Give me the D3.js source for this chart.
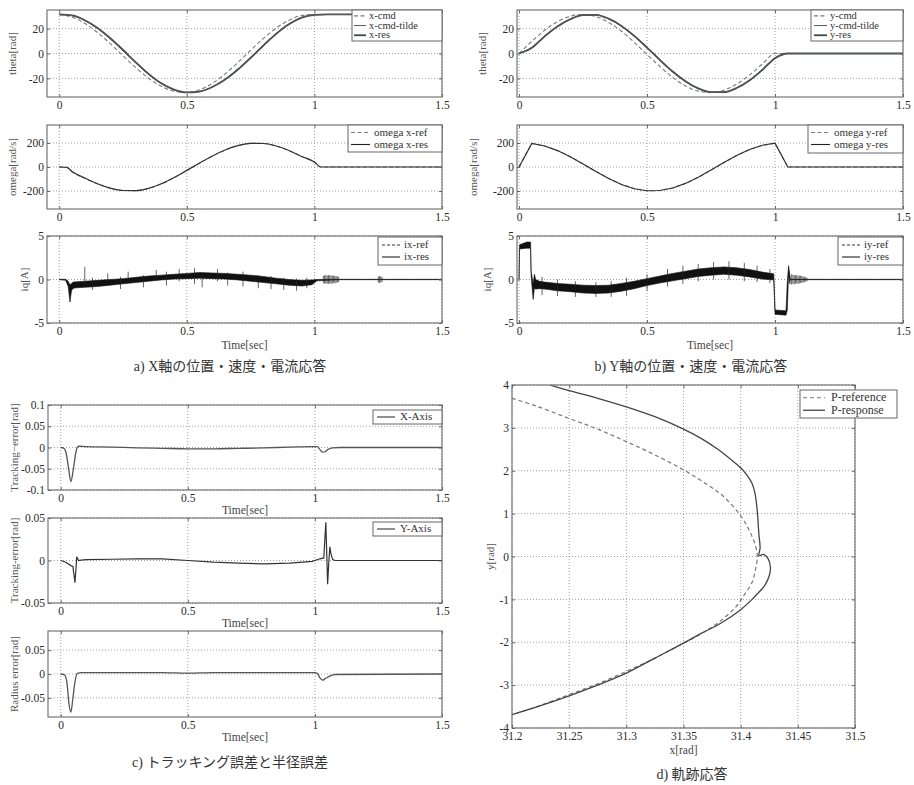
<!DOCTYPE html>
<html>
<head>
<meta charset="utf-8">
<script src="https://cdn.jsdelivr.net/npm/d3@7"></script>
<style>
body { margin: 0; background: #fff; }
svg { display: block; }
text { font-family: "Liberation Serif", "Times New Roman", serif; }
.grid { stroke: #8a8a8a; stroke-width: 0.8; stroke-dasharray: 1,2; }
.axis line { stroke: #666; }
.cap { font-family: "Liberation Serif", "Noto Sans CJK JP", serif; font-size: 14px; fill: #333; }
</style>
</head>
<body>
<svg id="fig" width="914" height="785"></svg>
<script>
// ---- ticks
var tTicks = [0, 0.5, 1, 1.5];
var thetaTicks = [-20, 0, 20];
var omegaTicks = [-200, 0, 200];
var iqTicks = [-5, 0, 5];
var errXTicks = [-0.1, -0.05, 0, 0.05, 0.1];
var errYTicks = [-0.05, 0, 0.05];
var radTicks = [-0.05, 0, 0.05];
var pxTicks = [31.2, 31.25, 31.3, 31.35, 31.4, 31.45, 31.5];
var pyTicks = [-4, -3, -2, -1, 0, 1, 2, 3, 4];

// ---- a) / b) position (theta)
var tTheta = [0, .05, .1, .15, .2, .25, .3, .35, .4, .45, .5, .55, .6, .65, .7, .75, .8, .85, .9, .95, 1.0, 1.05, 1.5];
var xCmd      = [31.3, 29.3, 24.3, 16.9, 7.9, -1.9, -11.4, -19.9, -26.4, -30.4, -31.4, -29.2, -24.0, -16.4, -7.2, 2.6, 12.1, 20.4, 26.8, 30.6, 31.4, 31.4, 31.4];
var xCmdTilde = [31.4, 30.5, 26.5, 20.2, 11.8, 2.3, -7.6, -16.9, -24.3, -29.2, -31.3, -30.5, -26.8, -20.7, -12.5, -3.0, 6.9, 16.2, 23.8, 29.0, 31.1, 31.4, 31.4];
var xRes      = [31.4, 30.6, 26.8, 20.6, 12.3, 2.8, -7.1, -16.4, -24.0, -29.0, -31.3, -30.6, -27.0, -21.0, -12.9, -3.5, 6.4, 15.8, 23.5, 28.8, 31.0, 31.4, 31.4];
var yCmd      = [0, 9.8, 18.7, 25.6, 30.0, 31.4, 29.7, 25.0, 17.9, 9.0, -0.8, -10.4, -19.2, -26.0, -30.3, -31.4, -29.5, -24.6, -17.4, -8.5, 0, 0, 0];
var yCmdTilde = [0, 5.0, 14.2, 22.0, 27.8, 31.0, 31.0, 27.8, 21.9, 13.8, 4.3, -5.6, -14.9, -22.6, -28.3, -31.2, -31.0, -27.6, -21.4, -12.9, -3.4, 0, 0];
var yRes      = [0, 4.6, 13.8, 21.7, 27.6, 30.9, 31.1, 28.0, 22.2, 14.2, 4.8, -5.1, -14.5, -22.3, -28.1, -31.1, -31.1, -27.8, -21.7, -13.3, -3.8, 0, 0];

// ---- a) / b) velocity (omega)
var tOmegaX = [0, .03, .05, .1, .15, .2, .25, .3, .35, .4, .45, .5, .55, .6, .65, .7, .75, .8, .85, .9, .95, 1.0, 1.025, 1.5];
var omegaXRef = [0, -4, -40, -94, -141, -177, -196, -197, -178, -141, -89, -29, 32, 91, 141, 178, 197, 196, 175, 137, 88, 40, 0, 0];
var omegaXRes = [0, -3, -38, -92, -140, -176, -196, -197, -178, -140, -88, -28, 33, 92, 142, 178, 197, 196, 175, 137, 88, 42, 0, 0];
var tOmegaY = [0, .05, .1, .15, .2, .25, .3, .35, .4, .45, .5, .55, .6, .65, .7, .75, .8, .85, .9, .95, 1.0, 1.05, 1.5];
var omegaYRef = [0, 197, 176, 138, 86, 26, -36, -95, -145, -180, -198, -196, -176, -138, -86, -26, 36, 95, 145, 180, 198, 0, 0];
var omegaYRes = [0, 196, 175, 137, 85, 25, -37, -96, -146, -181, -198, -196, -175, -137, -85, -25, 37, 96, 146, 181, 198, 0, 0];

// ---- a) / b) current: noisy band read as lower / upper edge, plus the taller spikes
var ixT  = [0, 0.025, 0.035, 0.042, 0.048, 0.055, 0.07, 0.1, 0.15, 0.2, 0.25, 0.3, 0.35, 0.4, 0.45, 0.5, 0.55, 0.6, 0.65, 0.7, 0.75, 0.8, 0.85, 0.9, 0.95, 0.99, 1.01, 1.1, 1.5];
var ixHi = [0.02, 0.02, -0.2, -0.6, -0.45, -0.3, -0.25, -0.2, -0.1, 0.0, 0.1, 0.25, 0.4, 0.5, 0.6, 0.7, 0.8, 0.75, 0.7, 0.6, 0.5, 0.35, 0.15, 0.0, -0.1, -0.05, 0.0, 0.02, 0.02];
var ixLo = [-0.02, -0.1, -0.8, -2.6, -1.3, -1.0, -0.95, -0.9, -0.8, -0.65, -0.5, -0.35, -0.2, -0.05, 0.05, 0.1, 0.15, 0.1, 0.05, -0.05, -0.2, -0.35, -0.5, -0.65, -0.75, -0.6, -0.15, -0.02, -0.02];
var ixSpikes = [[0.1, -0.6, 1.45], [0.13, -1.2, 0.2], [0.19, -0.3, 0.7], [0.24, -1.1, 0.3], [0.27, -0.2, 0.9], [0.33, -0.9, 0.5], [0.38, 0.0, 1.1], [0.42, -0.7, 0.9], [0.47, -0.2, 1.2], [0.53, -0.5, 1.3], [0.56, -0.9, 0.6], [0.62, -0.2, 1.2], [0.66, -0.7, 0.8], [0.72, -0.8, 0.9], [0.78, -1.0, 0.5], [0.83, -1.1, 0.4], [0.88, -1.2, 0.2], [0.93, -1.3, 0.1], [0.97, -1.0, 0.2],
    [1.035, -0.4, 0.4], [1.04, -0.5, 0.5], [1.045, -0.45, 0.5], [1.05, -0.5, 0.45], [1.055, -0.5, 0.5], [1.06, -0.45, 0.5], [1.065, -0.5, 0.45], [1.07, -0.45, 0.45], [1.075, -0.4, 0.45], [1.08, -0.45, 0.4], [1.085, -0.4, 0.4], [1.09, -0.35, 0.35], [1.095, -0.3, 0.3],
    [1.25, -0.35, 0.35], [1.255, -0.4, 0.4], [1.26, -0.35, 0.35], [1.265, -0.3, 0.3]];

var iyT  = [0, 0.002, 0.03, 0.045, 0.047, 0.055, 0.06, 0.065, 0.08, 0.1, 0.15, 0.2, 0.25, 0.3, 0.35, 0.4, 0.45, 0.5, 0.55, 0.6, 0.65, 0.7, 0.75, 0.8, 0.85, 0.9, 0.95, 0.995, 1.0, 1.043, 1.048, 1.053, 1.058, 1.06, 1.5];
var iyHi = [0, 4.0, 4.3, 4.3, 1.0, -0.5, 0.6, 0.0, -0.2, -0.3, -0.45, -0.55, -0.65, -0.7, -0.65, -0.45, -0.2, 0.1, 0.4, 0.7, 0.95, 1.2, 1.35, 1.45, 1.35, 1.15, 0.85, 0.65, -3.5, -3.6, -0.3, 1.6, 0.5, 0.02, 0.02];
var iyLo = [0, 3.5, 3.6, 3.6, 0.5, -2.3, -1.0, -1.1, -1.05, -1.1, -1.3, -1.4, -1.55, -1.6, -1.55, -1.35, -1.05, -0.7, -0.4, -0.15, 0.1, 0.35, 0.5, 0.6, 0.5, 0.3, 0.05, -0.05, -4.0, -4.1, -3.5, 0.6, -0.5, -0.02, -0.02];
var iySpikes = [[0.09, -1.8, 0.3], [0.15, -1.9, 0.0], [0.22, -2.0, -0.2], [0.3, -2.0, -0.3], [0.36, -2.0, -0.2], [0.42, -1.9, 0.2], [0.5, -1.3, 0.6], [0.58, -0.8, 1.2], [0.64, -0.5, 1.6], [0.7, -0.2, 1.8], [0.76, 0.0, 2.0], [0.82, 0.0, 2.1], [0.88, -0.2, 1.9], [0.93, -0.3, 1.6], [0.98, -0.4, 1.2],
    [1.065, -0.6, 0.6], [1.07, -0.5, 0.55], [1.075, -0.55, 0.5], [1.08, -0.5, 0.5], [1.085, -0.45, 0.5], [1.09, -0.5, 0.45], [1.095, -0.45, 0.45], [1.1, -0.4, 0.45], [1.105, -0.4, 0.4], [1.11, -0.35, 0.35], [1.115, -0.3, 0.3], [1.12, -0.25, 0.25], [1.125, -0.2, 0.2]];

// ---- c) tracking / radius error
var tErrX = [0, 0.01, 0.02, 0.03, 0.04, 0.05, 0.06, 0.07, 0.1, 0.2, 0.3, 0.4, 0.5, 0.6, 0.7, 0.8, 0.9, 1.0, 1.01, 1.02, 1.03, 1.04, 1.05, 1.07, 1.1, 1.5];
var errX  = [0, -0.001, -0.01, -0.045, -0.08, -0.05, -0.01, 0.003, 0.002, 0.001, -0.001, -0.002, -0.003, -0.003, -0.002, -0.001, 0.001, 0.002, 0.002, -0.005, -0.011, -0.01, -0.005, -0.001, 0, 0];
var tErrY = [0, 0.02, 0.04, 0.048, 0.056, 0.06, 0.063, 0.07, 0.08, 0.1, 0.2, 0.3, 0.4, 0.5, 0.6, 0.7, 0.8, 0.9, 0.99, 1.02, 1.035, 1.043, 1.05, 1.054, 1.059, 1.063, 1.07, 1.08, 1.1, 1.5];
var errY  = [0, -0.002, -0.006, -0.007, -0.026, -0.01, 0.0045, 0.0, 0.0005, 0.001, 0.0015, 0.002, 0.002, 0.0, -0.002, -0.003, -0.004, -0.003, -0.001, 0.002, 0.003, 0.045, -0.028, -0.005, 0.016, 0.008, 0.001, 0, 0, 0];
var tRad  = [0, 0.015, 0.025, 0.032, 0.04, 0.047, 0.055, 0.065, 0.08, 0.2, 0.4, 0.5, 0.6, 0.8, 1.0, 1.01, 1.02, 1.03, 1.04, 1.06, 1.08, 1.5];
var radErr = [0, -0.002, -0.02, -0.06, -0.08, -0.055, -0.02, 0.001, 0.003, 0.003, 0.003, 0.002, 0.003, 0.003, 0.003, 0.001, -0.008, -0.013, -0.01, -0.004, -0.001, 0];

// ---- d) trajectory  [x, y]
var pRef = [[31.2, 3.69], [31.22, 3.52], [31.25, 3.22], [31.275, 2.97], [31.3, 2.68], [31.325, 2.37], [31.35, 2.02], [31.37, 1.69], [31.385, 1.4], [31.4, 0.95], [31.408, 0.58], [31.413, 0.25], [31.4145, 0], [31.413, -0.3], [31.41, -0.6], [31.403, -0.9], [31.395, -1.2], [31.38, -1.55], [31.365, -1.81], [31.35, -2.02], [31.325, -2.37], [31.3, -2.68], [31.275, -2.97], [31.25, -3.22], [31.22, -3.52], [31.2, -3.69]];
var pRes = [[31.233, 4.0], [31.25, 3.87], [31.275, 3.69], [31.3, 3.49], [31.325, 3.26], [31.35, 2.97], [31.365, 2.76], [31.38, 2.5], [31.392, 2.25], [31.4, 2.07], [31.406, 1.88], [31.41, 1.7], [31.4125, 1.48], [31.414, 1.2], [31.415, 0.9], [31.416, 0.5], [31.417, 0.2], [31.416, 0.02], [31.42, 0.05], [31.424, -0.05], [31.426, -0.25], [31.425, -0.45], [31.421, -0.68], [31.415, -0.86], [31.41, -1.0], [31.4, -1.24], [31.383, -1.55], [31.365, -1.8], [31.35, -2.02], [31.325, -2.37], [31.3, -2.72], [31.272, -3.03], [31.25, -3.25], [31.225, -3.48], [31.2, -3.69]];

var svg = d3.select("#fig");
svg.append("rect").attr("width", 914).attr("height", 785).attr("fill", "#fff");
var clipN = 0;
var SERIF = "'Liberation Serif', 'Times New Roman', serif";

var sDash  = {stroke: "#7a7a7a", width: 1.1, dash: "4,2.5"};
var sThin  = {stroke: "#5a5a5a", width: 1, dash: null};
var sRes   = {stroke: "#3f4a40", width: 1.8, dash: null};
var sBlack = {stroke: "#222", width: 1.1, dash: null};
var sDashK = {stroke: "#333", width: 1, dash: "3,2"};

function zip(a, b) { return a.map(function(v, i) { return [v, b[i]]; }); }

function drawLine(g, x, y, pts, st, curve) {
    g.append("path")
        .datum(pts)
        .attr("fill", "none")
        .attr("stroke", st.stroke)
        .attr("stroke-width", st.width)
        .attr("stroke-dasharray", st.dash)
        .attr("d", d3.line().x(function(d) { return x(d[0]); }).y(function(d) { return y(d[1]); })
            .curve(curve || d3.curveLinear));
}

function drawBand(g, x, y, t, lo, hi, spikes) {
    var rows = t.map(function(v, i) { return {t: v, lo: lo[i], hi: hi[i]}; });
    g.append("path").datum(rows)
        .attr("fill", "#111")
        .attr("stroke", "#111")
        .attr("stroke-width", 0.6)
        .attr("d", d3.area().x(function(d) { return x(d.t); })
            .y0(function(d) { return y(d.lo); }).y1(function(d) { return y(d.hi); }));
    g.selectAll(".spk").data(spikes).enter().append("line")
        .attr("x1", function(d) { return x(d[0]); }).attr("x2", function(d) { return x(d[0]); })
        .attr("y1", function(d) { return y(d[1]); }).attr("y2", function(d) { return y(d[2]); })
        .attr("stroke", "#222").attr("stroke-width", 0.7);
}

function legend(L) {
    var g = svg.append("g");
    g.append("rect").attr("x", L.x).attr("y", L.y).attr("width", L.w).attr("height", L.h)
        .attr("fill", "#fff").attr("stroke", "#666").attr("stroke-width", 1);
    L.items.forEach(function(it, i) {
        var cy = L.y + L.pad + L.row * (i + 0.5);
        g.append("line").attr("x1", L.x + L.s0).attr("x2", L.x + L.s1).attr("y1", cy).attr("y2", cy)
            .attr("stroke", it.st.stroke).attr("stroke-width", it.st.width)
            .attr("stroke-dasharray", it.st.dash);
        g.append("text").attr("x", L.x + L.tx).attr("y", cy).attr("dy", "0.3em")
            .attr("font-family", SERIF)
            .attr("font-size", L.fs).attr("fill", "#333").text(it.label);
    });
}

function panel(p) {
    var x = d3.scaleLinear().domain(p.xd).range([p.l, p.r]);
    var y = d3.scaleLinear().domain(p.yd).range([p.b, p.t]);
    var g = svg.append("g");
    var id = "clip" + (clipN++);
    g.append("clipPath").attr("id", id).append("rect")
        .attr("x", p.l).attr("y", p.t).attr("width", p.r - p.l).attr("height", p.b - p.t);

    g.append("g").selectAll("line").data(p.xt).join("line").attr("class", "grid")
        .attr("x1", function(d) { return x(d); }).attr("x2", function(d) { return x(d); })
        .attr("y1", p.t).attr("y2", p.b);
    g.append("g").selectAll("line").data(p.yt).join("line").attr("class", "grid")
        .attr("y1", function(d) { return y(d); }).attr("y2", function(d) { return y(d); })
        .attr("x1", p.l).attr("x2", p.r);

    var plot = g.append("g").attr("clip-path", "url(#" + id + ")");
    p.draw(plot, x, y);

    g.append("rect").attr("x", p.l).attr("y", p.t).attr("width", p.r - p.l).attr("height", p.b - p.t)
        .attr("fill", "none").attr("stroke", "#6a6a6a").attr("stroke-width", 1.1);

    var fmt = function(d) { return String(d); };
    var style = function(s) {
        s.select(".domain").remove();
        s.attr("font-family", SERIF).attr("font-size", 11.5);
        s.selectAll("text").attr("fill", "#2a2a2a");
    };
    g.append("g").attr("class", "axis").attr("transform", "translate(0," + p.b + ")")
        .call(d3.axisBottom(x).tickValues(p.xt).tickSize(-3).tickPadding(4).tickFormat(fmt))
        .call(style);
    g.append("g").attr("class", "axis").attr("transform", "translate(" + p.l + ",0)")
        .call(d3.axisLeft(y).tickValues(p.yt).tickSize(-3).tickPadding(3).tickFormat(fmt))
        .call(style);
    g.append("g").attr("class", "axis").attr("transform", "translate(0," + p.t + ")")
        .call(d3.axisTop(x).tickValues(p.xt).tickSize(-3).tickFormat(""))
        .call(style);
    g.append("g").attr("class", "axis").attr("transform", "translate(" + p.r + ",0)")
        .call(d3.axisRight(y).tickValues(p.yt).tickSize(-3).tickFormat(""))
        .call(style);

    if (p.ylabel) {
        g.append("text")
            .attr("transform", "translate(" + p.ylx + "," + ((p.t + p.b) / 2) + ") rotate(-90)")
            .attr("text-anchor", "middle").attr("dy", "0.32em").attr("font-family", SERIF)
            .attr("font-size", 11).attr("fill", "#555").text(p.ylabel);
    }
    if (p.xlabel) {
        g.append("text").attr("x", (p.l + p.r) / 2).attr("y", p.b + p.xly)
            .attr("text-anchor", "middle").attr("font-family", SERIF)
            .attr("font-size", 11.5).attr("fill", "#444").text(p.xlabel);
    }
    if (p.legend) legend(p.legend);
}

var smooth = d3.curveMonotoneX;

// ===== a) X axis
var aX = [-0.048, 1.5], aL = 47, aR = 442;
panel({l: aL, r: aR, t: 10, b: 97, xd: aX, yd: [-35, 35], xt: tTicks, yt: thetaTicks,
    ylabel: "theta[rad]", ylx: 12,
    draw: function(g, x, y) {
        drawLine(g, x, y, zip(tTheta, xCmd), sDash, smooth);
        drawLine(g, x, y, zip(tTheta, xRes), sRes, smooth);
        drawLine(g, x, y, zip(tTheta, xCmdTilde), sThin, smooth);
    },
    legend: {x: 352, y: 10, w: 90, h: 31, pad: 1, row: 9.7, s0: 2, s1: 14, tx: 17, fs: 10.5,
        items: [{label: "x-cmd", st: sDash}, {label: "x-cmd-tilde", st: sThin}, {label: "x-res", st: sRes}]}
});
panel({l: aL, r: aR, t: 125, b: 209, xd: aX, yd: [-350, 350], xt: tTicks, yt: omegaTicks,
    ylabel: "omega[rad/s]", ylx: 12,
    draw: function(g, x, y) {
        drawLine(g, x, y, zip(tOmegaX, omegaXRef), sDash, smooth);
        drawLine(g, x, y, zip(tOmegaX, omegaXRes), {stroke: "#333", width: 1.2}, smooth);
    },
    legend: {x: 348, y: 125, w: 94, h: 27, pad: 1.5, row: 12, s0: 3, s1: 22, tx: 26, fs: 11,
        items: [{label: "omega x-ref", st: sDash}, {label: "omega x-res", st: sBlack}]}
});
panel({l: aL, r: aR, t: 236, b: 323, xd: aX, yd: [-5, 5], xt: tTicks, yt: iqTicks,
    ylabel: "iq[A]", ylx: 24, xlabel: "Time[sec]", xly: 26,
    draw: function(g, x, y) {
        drawBand(g, x, y, ixT, ixLo, ixHi, ixSpikes);
    },
    legend: {x: 378, y: 237, w: 64, h: 28, pad: 2, row: 12, s0: 4, s1: 22, tx: 26, fs: 11,
        items: [{label: "ix-ref", st: sDashK}, {label: "ix-res", st: sBlack}]}
});

// ===== b) Y axis
var bX = [-0.008, 1.5], bL = 517, bR = 903;
panel({l: bL, r: bR, t: 10, b: 97, xd: bX, yd: [-35, 35], xt: tTicks, yt: thetaTicks,
    ylabel: "theta[rad]", ylx: 482,
    draw: function(g, x, y) {
        drawLine(g, x, y, zip(tTheta, yCmd), sDash, smooth);
        drawLine(g, x, y, zip(tTheta, yRes), sRes, smooth);
        drawLine(g, x, y, zip(tTheta, yCmdTilde), sThin, smooth);
    },
    legend: {x: 811, y: 10, w: 92, h: 31, pad: 1, row: 9.7, s0: 3, s1: 16, tx: 19, fs: 10.5,
        items: [{label: "y-cmd", st: sDash}, {label: "y-cmd-tilde", st: sThin}, {label: "y-res", st: sRes}]}
});
panel({l: bL, r: bR, t: 125, b: 209, xd: bX, yd: [-350, 350], xt: tTicks, yt: omegaTicks,
    ylabel: "omega[rad/s]", ylx: 473,
    draw: function(g, x, y) {
        drawLine(g, x, y, zip(tOmegaY, omegaYRef), sDash);
        drawLine(g, x, y, zip(tOmegaY, omegaYRes), {stroke: "#333", width: 1.2}, d3.curveLinear);
    },
    legend: {x: 808, y: 125, w: 95, h: 28, pad: 1.5, row: 12, s0: 3, s1: 22, tx: 26, fs: 11,
        items: [{label: "omega y-ref", st: sDash}, {label: "omega y-res", st: sBlack}]}
});
panel({l: bL, r: bR, t: 236, b: 323, xd: bX, yd: [-5, 5], xt: tTicks, yt: iqTicks,
    ylabel: "iq[A]", ylx: 487, xlabel: "Time[sec]", xly: 26,
    draw: function(g, x, y) {
        drawBand(g, x, y, iyT, iyLo, iyHi, iySpikes);
    },
    legend: {x: 838, y: 237, w: 65, h: 28, pad: 2, row: 12, s0: 4, s1: 22, tx: 26, fs: 11,
        items: [{label: "iy-ref", st: sDashK}, {label: "iy-res", st: sBlack}]}
});

// ===== c) errors
var cX = [-0.05, 1.5], cL = 48, cR = 442;
var sErr = {stroke: "#555", width: 1.3, dash: null};
panel({l: cL, r: cR, t: 405, b: 490, xd: cX, yd: [-0.1, 0.1], xt: tTicks, yt: errXTicks,
    ylabel: "Tracking\u2212error[rad]", ylx: 14, xlabel: "Time[sec]", xly: 24,
    draw: function(g, x, y) { drawLine(g, x, y, zip(tErrX, errX), sErr, smooth); },
    legend: {x: 373, y: 410, w: 69, h: 14, pad: 0, row: 14, s0: 4, s1: 22, tx: 27, fs: 11,
        items: [{label: "X-Axis", st: sErr}]}
});
panel({l: cL, r: cR, t: 518, b: 603, xd: cX, yd: [-0.05, 0.05], xt: tTicks, yt: errYTicks,
    ylabel: "Tracking-error[rad]", ylx: 14, xlabel: "Time[sec]", xly: 24,
    draw: function(g, x, y) { drawLine(g, x, y, zip(tErrY, errY), {stroke: "#333", width: 1.2}); },
    legend: {x: 373, y: 522, w: 69, h: 14, pad: 0, row: 14, s0: 4, s1: 22, tx: 27, fs: 11,
        items: [{label: "Y-Axis", st: sErr}]}
});
panel({l: cL, r: cR, t: 631, b: 717, xd: cX, yd: [-0.09, 0.09], xt: tTicks, yt: radTicks,
    ylabel: "Radius error[rad]", ylx: 14, xlabel: "Time[sec]", xly: 24,
    draw: function(g, x, y) { drawLine(g, x, y, zip(tRad, radErr), sErr, smooth); }
});

// ===== d) trajectory
var sRefD = {stroke: "#777", width: 1.2, dash: "4,3"};
var sResD = {stroke: "#444", width: 1.3, dash: null};
panel({l: 512, r: 855, t: 385, b: 728, xd: [31.2, 31.5], yd: [-4, 4], xt: pxTicks, yt: pyTicks,
    ylabel: "y[rad]", ylx: 490, xlabel: "x[rad]", xly: 26,
    draw: function(g, x, y) {
        drawLine(g, x, y, pRef, sRefD, d3.curveCatmullRom);
        drawLine(g, x, y, pRes, sResD, d3.curveCatmullRom);
    },
    legend: {x: 800, y: 390, w: 97, h: 28, pad: 1.5, row: 12.5, s0: 3, s1: 25, tx: 31, fs: 12,
        items: [{label: "P-reference", st: sRefD}, {label: "P-response", st: sResD}]}
});

// ===== captions
var caps = [
    {x: 230, y: 371, s: "a) X軸の位置・速度・電流応答"},
    {x: 691, y: 371, s: "b) Y軸の位置・速度・電流応答"},
    {x: 230, y: 767, s: "c) トラッキング誤差と半径誤差"},
    {x: 692, y: 779, s: "d) 軌跡応答"}
];
svg.selectAll(".cap").data(caps).enter().append("text").attr("class", "cap")
    .attr("x", function(d) { return d.x; }).attr("y", function(d) { return d.y; })
    .attr("text-anchor", "middle").text(function(d) { return d.s; });
</script>
</body>
</html>
